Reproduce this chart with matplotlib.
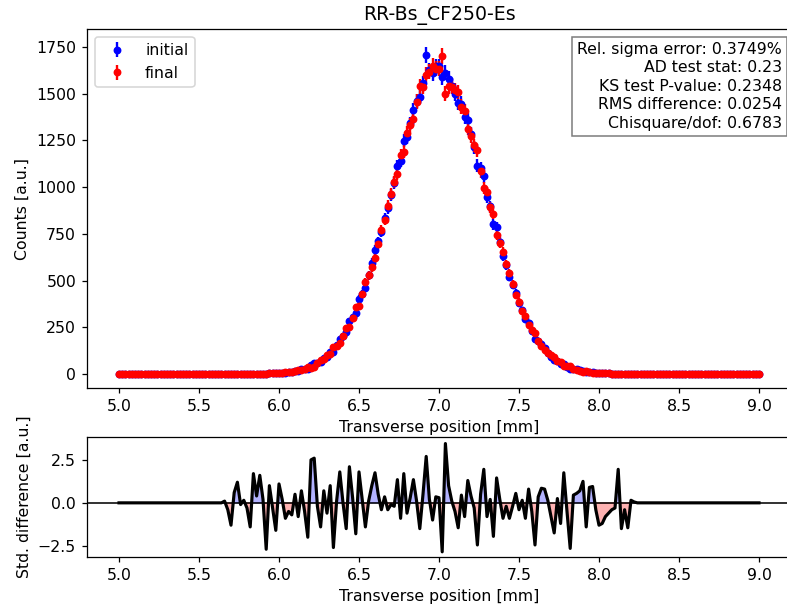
import numpy as np
import matplotlib
matplotlib.use("Agg")
import matplotlib.pyplot as plt

# bin grid: 5.0 .. 9.0 mm in 0.02 mm steps
x = np.linspace(5.0, 9.0, 201)
first_bin = 33   # first non-empty bin (x = 5.66)

# counts in the non-empty bins, 5.66 .. 8.24 mm
initial_core = [
    1, 1, 1, 1, 1, 1, 1, 1, 1, 1,
    1, 1, 2, 2, 3, 3, 4, 5, 6, 7,
    9, 11, 16, 17, 25, 27, 28, 49, 58, 57,
    63, 85, 93, 118, 117, 154, 189, 204, 222, 283,
    304, 324, 400, 430, 462, 530, 596, 664, 709, 760,
    834, 888, 958, 1023, 1114, 1141, 1248, 1268, 1341, 1415,
    1462, 1481, 1555, 1707, 1624, 1610, 1647, 1646, 1587, 1612,
    1580, 1542, 1500, 1452, 1447, 1375, 1360, 1286, 1214, 1115,
    1100, 1057, 948, 897, 801, 785, 705, 631, 582, 519,
    475, 434, 379, 341, 293, 272, 229, 187, 179, 158,
    137, 114, 92, 74, 70, 53, 55, 39, 26, 29,
    24, 20, 17, 10, 11, 9, 6, 4, 3, 3,
    3, 2, 2, 2, 1, 1, 1, 1, 1, 1,
]
final_core = [
    1, 1, 1, 1, 1, 1, 1, 1, 1, 1,
    1, 1, 2, 2, 3, 3, 4, 5, 6, 9,
    11, 13, 14, 21, 21, 29, 40, 33, 40, 59,
    75, 79, 99, 108, 147, 152, 165, 204, 244, 249,
    298, 356, 366, 426, 492, 528, 572, 620, 695, 770,
    824, 900, 962, 1029, 1070, 1171, 1190, 1290, 1331, 1365,
    1458, 1539, 1535, 1600, 1616, 1650, 1633, 1634, 1701, 1500,
    1540, 1538, 1520, 1508, 1431, 1405, 1313, 1272, 1224, 1197,
    1084, 995, 972, 891, 857, 745, 699, 653, 586, 539,
    479, 422, 387, 339, 309, 260, 237, 221, 175, 148,
    127, 112, 100, 90, 68, 63, 43, 43, 42, 27,
    22, 18, 13, 14, 9, 7, 6, 6, 5, 3,
    3, 2, 2, 1, 1, 1, 1, 1, 1, 1,
]
# standardised difference per bin
resid_core = [
    0.1, -0.4, -1.3, 0.6, 1.2, -0.1, 0.15, -0.3, -1.4, 1.7,
    0.4, 1.6, 0.2, -2.7, 1.0, -0.3, -1.6, 1.1, 0.2, -0.9,
    -0.5, -0.7, 0.5, -0.8, 0.7, -0.5, -2.0, 2.5, 2.6, -0.2,
    -1.4, 0.7, -0.6, 1.0, -2.6, 0.1, 1.8, 0.0, -1.5, 2.1,
    0.3, -1.8, 1.8, 0.2, -1.4, 0.1, 1.0, 1.75, 0.5, -0.4,
    0.35, -0.4, -0.1, -0.2, 1.35, -0.9, 1.7, -0.6, 0.3, 1.35,
    0.1, -1.5, 0.5, 2.7, 0.2, -1.0, 0.35, 0.3, -2.85, 3.45,
    1.0, 0.1, -0.5, -1.45, 0.45, -0.8, 1.3, 0.4, -0.3, -2.45,
    0.5, 1.95, -0.8, 0.2, -1.95, 1.45, 0.2, -0.9, -0.2, -0.9,
    -0.2, 0.55, -0.4, 0.15, -0.9, 0.8, -0.5, -2.45, 0.35, 0.85,
    0.8, 0.15, -0.8, -1.75, 0.25, -1.2, 1.75, -0.5, -2.65, 0.45,
    0.55, 0.7, 1.25, -1.4, 0.9, 0.95, -0.4, -1.3, -1.2, -0.8,
    -0.6, -0.4, -0.3, 1.95, -1.5, -0.4, -1.45, 0.15, 0.05, 0.0,
]

stats_text = ("Rel. sigma error: 0.3749%\n"
              "AD test stat: 0.23\n"
              "KS test P-value: 0.2348\n"
              "RMS difference: 0.0254\n"
              "Chisquare/dof: 0.6783")

def full(core):
    arr = np.zeros(len(x))
    arr[first_bin:first_bin + len(core)] = core
    return arr

initial = full(initial_core)
final = full(final_core)
resid = full(resid_core)

dpi = 113
fig = plt.figure(figsize=(787 / dpi, 608 / dpi), dpi=dpi)
ax1 = fig.add_axes([87 / 787, 1 - 388 / 608, 704 / 787, 359 / 608])
ax2 = fig.add_axes([87 / 787, 1 - 557 / 608, 704 / 787, 120 / 608])

ax1.errorbar(x, initial, yerr=np.sqrt(initial), fmt="o", color="blue",
             markersize=4, label="initial")
ax1.errorbar(x, final, yerr=np.sqrt(final), fmt="o", color="red",
             markersize=4, label="final")
ax1.set_xlim(4.8, 9.2)
ax1.set_ylim(-75, 1846)
ax1.set_title("RR-Bs_CF250-Es")
ax1.set_xlabel("Transverse position [mm]")
ax1.set_ylabel("Counts [a.u.]")
ax1.legend(loc="upper left")
ax1.text(0.987, 0.965, stats_text, transform=ax1.transAxes, ha="right",
         va="top", multialignment="right", linespacing=1.3,
         bbox=dict(boxstyle="square", facecolor="white", alpha=0.5))

ax2.plot(x, resid, color="black", lw=2)
ax2.axhline(0, color="black", lw=1)
ax2.fill_between(x, resid, 0, where=resid > 0, color="blue", alpha=0.3,
                 interpolate=True)
ax2.fill_between(x, resid, 0, where=resid < 0, color="red", alpha=0.3,
                 interpolate=True)
ax2.set_xlim(4.8, 9.2)
ax2.set_ylim(-3.15, 3.83)
ax2.set_yticks([-2.5, 0.0, 2.5])
ax2.set_xlabel("Transverse position [mm]")
ax2.set_ylabel("Std. difference [a.u.]")

fig.savefig("out.png", dpi=dpi)
